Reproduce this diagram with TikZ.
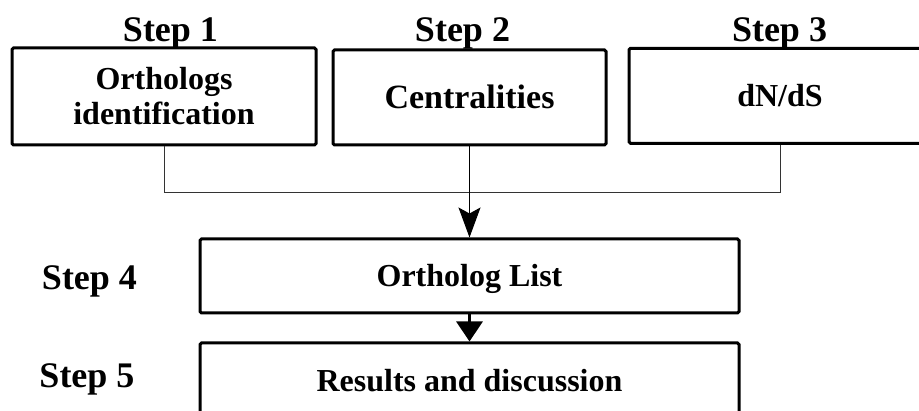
\documentclass[tikz,border=0pt]{standalone}
\usepackage{fontspec}
\setmainfont{Liberation Serif}
\usetikzlibrary{arrows.meta}

\tikzset{
  stepbox/.style={draw=black, line width=3pt, rounded corners=1.5pt,
    inner sep=0pt, align=center, font=\bfseries\fontsize{32}{35}\selectfont},
  onerow/.style={text height=21.2pt, text depth=0pt},
  steplabel/.style={anchor=base, inner sep=0pt,
    font=\bfseries\fontsize{36}{40}\selectfont},
  feeder/.style={draw=black!80, line width=1pt},
  mergearrow/.style={draw=black, line width=1pt,
    -{Stealth[length=30pt, width=22pt, inset=6pt]}},
  thickarrow/.style={draw=black, line width=3pt,
    -{Triangle[length=20pt, width=26pt]}}
}

\begin{document}
\begin{tikzpicture}[x=1pt, y=-1pt]
  \clip (0,0) rectangle (919,411);
  \fill[white] (0,0) rectangle (919,411);

  % step captions
  \node[steplabel] (s1) at (170.5,42) {Step 1};
  \node[steplabel] (s2) at (462.5,42) {Step 2};
  \node[steplabel] (s3) at (779.5,42) {Step 3};
  \node[steplabel] (s4) at (89.5,290) {Step 4};
  \node[steplabel] (s5) at (87,388) {Step 5};

  % upper row of boxes
  \node[stepbox, minimum width=304pt, minimum height=97pt] (b1) at (164,96.5)
    {Orthologs\\identification};
  \node[stepbox, onerow, minimum width=273pt, minimum height=95pt,
        font=\bfseries\fontsize{34}{38}\selectfont, text height=22.5pt] (b2) at (469.5,97.5)
    {Centralities};
  \node[stepbox, onerow, minimum width=302pt, minimum height=95pt] (b3) at (780,95.8)
    {dN/dS};

  % lower boxes
  \node[stepbox, onerow, minimum width=539pt, minimum height=74pt] (b4) at (469.5,276)
    {Ortholog List};
  \node[stepbox, onerow, minimum width=539pt, minimum height=76pt] (b5) at (469.5,381)
    {Results and discussion};

  % connectors
  \draw[feeder] (b1.south) -- ++(0,46) -| (b3.south);
  \draw[mergearrow] (b2.south) -- (b4.north);
  \draw[thickarrow] (b4.south) -- (b5.north);
\end{tikzpicture}
\end{document}
